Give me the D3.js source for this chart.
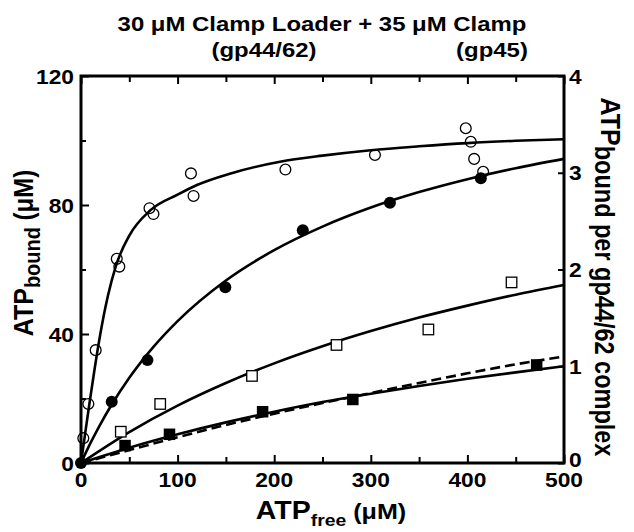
<!DOCTYPE html>
<html>
<head>
<meta charset="utf-8">
<script src="https://cdn.jsdelivr.net/npm/d3@7"></script>
<style>
  html, body { margin: 0; padding: 0; background: #fff; }
  svg { display: block; }
  text { font-family: "Liberation Sans", Arial, Helvetica, sans-serif; font-weight: bold; fill: #000; }
</style>
</head>
<body>
<svg id="chart" width="634" height="532"></svg>
<script>
// ---------------- data ----------------
const xTickValues = [0, 100, 200, 300, 400, 500];
const yLeftTickValues = [0, 40, 80, 120];
const yRightTickValues = [0, 1, 2, 3, 4];

// open circles
const openCircleX = [2.4, 7.6, 15.2, 37, 39.7, 70.9, 75, 113.8, 116.5, 211.6, 304.3, 398.3, 403.5, 407, 416.3];
const openCircleY = [7.7, 18.3, 35, 63.3, 60.9, 79, 77.2, 89.8, 82.8, 91, 95.5, 103.8, 99.6, 94.3, 90.3];
// filled circles
const filledCircleX = [0, 31.8, 68.8, 149.4, 229.6, 319.8, 413.9];
const filledCircleY = [0, 19, 31.9, 54.5, 72.2, 80.7, 88.3];
// open squares
const openSquareX = [41.2, 82, 177, 264.5, 359.6, 445.7];
const openSquareY = [9.7, 18.3, 27, 36.6, 41.4, 56];
// filled squares
const filledSquareX = [45.6, 91.6, 188, 281.4, 471.7];
const filledSquareY = [5.4, 8.9, 15.9, 19.7, 30.4];

// fitted curves
const fitOpenCircleX = [0, 4, 9, 14, 20, 28, 36, 50, 72, 100, 120, 155, 206, 250, 300, 350, 400, 450, 500];
const fitOpenCircleY = [0, 8.5, 19, 29, 40, 52, 61, 70.5, 78.4, 83.2, 86.2, 89.8, 93.4, 95.3, 97, 98.2, 99.2, 99.9, 100.4];
const fitFilledCircleX = [0, 10, 20, 30, 50, 75, 100, 150, 200, 250, 300, 350, 400, 450, 500];
const fitFilledCircleY = [0, 6.3, 12, 17.2, 26.4, 36, 44, 56.6, 66, 73.3, 79.2, 84, 88, 91.4, 94.3];
const fitOpenSquareX = [0, 50, 100, 150, 200, 250, 300, 350, 400, 450, 500];
const fitOpenSquareY = [0, 9.6, 17.8, 24.8, 30.9, 36.2, 40.9, 45.1, 48.8, 52.2, 55.2];
const fitFilledSquareX = [0, 50, 100, 150, 200, 250, 300, 350, 400, 450, 500];
const fitFilledSquareY = [0, 4.75, 8.9, 12.6, 15.9, 18.9, 21.5, 23.9, 26.1, 28.1, 30.0];
const fitDashedX = [0, 50, 100, 150, 200, 250, 300, 350, 400, 450, 500];
const fitDashedY = [0, 4.0, 8.0, 11.8, 15.3, 18.6, 21.7, 24.8, 27.8, 30.6, 33.0];

const titleLine1 = "30 \u03BCM Clamp Loader + 35 \u03BCM Clamp";
const titleSub1 = "(gp44/62)";
const titleSub2 = "(gp45)";

// ---------------- layout ----------------
const svg = d3.select("#chart");
const L = 81, R = 564, T = 76, B = 463;
const SX = 1.14; // horizontal stretch of the original typography

const x = d3.scaleLinear().domain([0, 500]).range([L, R]);
const y = d3.scaleLinear().domain([0, 120]).range([B, T]);
const y2 = d3.scaleLinear().domain([0, 4]).range([B, T]);

const zip = (xs, ys) => xs.map((v, i) => [v, ys[i]]);

// ---------- curves ----------
const line = d3.line().x(d => x(d[0])).y(d => y(d[1])).curve(d3.curveMonotoneX);
const curves = [
  { d: zip(fitOpenCircleX, fitOpenCircleY), dash: null },
  { d: zip(fitFilledCircleX, fitFilledCircleY), dash: null },
  { d: zip(fitOpenSquareX, fitOpenSquareY), dash: null },
  { d: zip(fitDashedX, fitDashedY), dash: "10,5" },
  { d: zip(fitFilledSquareX, fitFilledSquareY), dash: null }
];
svg.append("g").selectAll("path").data(curves).join("path")
  .attr("d", c => line(c.d))
  .attr("fill", "none")
  .attr("stroke", "#000")
  .attr("stroke-width", 2.6)
  .attr("stroke-dasharray", c => c.dash);

// ---------- axes (frame with inward ticks) ----------
function styleAxis(g) {
  g.select(".domain").remove();
  g.selectAll(".tick line").attr("stroke", "#000").attr("stroke-width", 2);
  g.selectAll(".tick text").remove();
}
const xMinor = d3.range(0, 501, 50);
svg.append("g").attr("transform", `translate(0,${B})`)
  .call(d3.axisBottom(x).tickValues(xMinor).tickSize(-7).tickFormat(""))
  .call(styleAxis)
  .call(g => g.selectAll(".tick line").attr("y2", d => d % 100 === 0 ? -8 : -6));
svg.append("g").attr("transform", `translate(0,${T})`)
  .call(d3.axisTop(x).tickValues(xMinor).tickSize(-7).tickFormat(""))
  .call(styleAxis)
  .call(g => g.selectAll(".tick line").attr("y2", d => d % 100 === 0 ? 8 : 6));
svg.append("g").attr("transform", `translate(${L},0)`)
  .call(d3.axisLeft(y).tickValues(d3.range(0, 121, 20)).tickSize(-7).tickFormat(""))
  .call(styleAxis)
  .call(g => g.selectAll(".tick line").attr("x2", d => d % 40 === 0 ? 8 : 5));
svg.append("g").attr("transform", `translate(${R},0)`)
  .call(d3.axisRight(y2).tickValues(yRightTickValues).tickSize(-6).tickFormat(""))
  .call(styleAxis);

svg.append("rect")
  .attr("x", L).attr("y", T).attr("width", R - L).attr("height", B - T)
  .attr("fill", "none").attr("stroke", "#000").attr("stroke-width", 3);

// ---------- markers ----------
const gm = svg.append("g");
gm.selectAll(".oc").data(zip(openCircleX, openCircleY)).join("circle")
  .attr("cx", d => x(d[0])).attr("cy", d => y(d[1])).attr("r", 5.4)
  .attr("fill", "none").attr("stroke", "#000").attr("stroke-width", 1.3);
gm.selectAll(".fc").data(zip(filledCircleX, filledCircleY)).join("circle")
  .attr("cx", d => x(d[0])).attr("cy", d => y(d[1])).attr("r", 6)
  .attr("fill", "#000");
const sqO = 10.5, sqF = 11.5;
gm.selectAll(".os").data(zip(openSquareX, openSquareY)).join("rect")
  .attr("x", d => x(d[0]) - sqO / 2).attr("y", d => y(d[1]) - sqO / 2)
  .attr("width", sqO).attr("height", sqO)
  .attr("fill", "#fff").attr("stroke", "#000").attr("stroke-width", 1.3);
gm.selectAll(".fs").data(zip(filledSquareX, filledSquareY)).join("rect")
  .attr("x", d => x(d[0]) - sqF / 2).attr("y", d => y(d[1]) - sqF / 2)
  .attr("width", sqF).attr("height", sqF)
  .attr("fill", "#000");

// ---------- text helper ----------
function label(px, py, parts, anchor, rot) {
  const t = svg.append("text")
    .attr("text-anchor", anchor || "middle")
    .attr("transform", `translate(${px},${py}) scale(${SX},1)` + (rot ? ` rotate(${rot})` : ""));
  parts.forEach(p => {
    t.append("tspan").attr("font-size", p.size).attr("dy", p.dy || 0).text(p.t);
  });
  return t;
}

// tick labels
xTickValues.forEach(v => label(x(v), 487, [{ t: String(v), size: 20 }], "middle"));
yLeftTickValues.forEach(v => label(74, y(v) + 7.5, [{ t: String(v), size: 20 }], "end"));
yRightTickValues.forEach(v => label(569, y2(v) + (v === 0 ? 3.5 : 7.5), [{ t: String(v), size: 20 }], "start"));

// titles
label(322, 31, [{ t: titleLine1, size: 21 }], "middle");
label(264, 57, [{ t: titleSub1, size: 21 }], "middle");
label(492, 57, [{ t: titleSub2, size: 21 }], "middle");

// axis titles
label(331, 519, [
  { t: "ATP", size: 25 },
  { t: "free", size: 17, dy: 7 },
  { t: " (\u03BCM)", size: 22, dy: -7 }
], "middle");
label(33, 253, [
  { t: "ATP", size: 25 },
  { t: "bound", size: 20, dy: 6 },
  { t: " (\u03BCM)", size: 24, dy: -6 }
], "middle", -90);
label(601, 277, [
  { t: "ATP", size: 25 },
  { t: "bound per gp44/62 complex", size: 23.5, dy: 5 }
], "middle", 90);
</script>
</body>
</html>
